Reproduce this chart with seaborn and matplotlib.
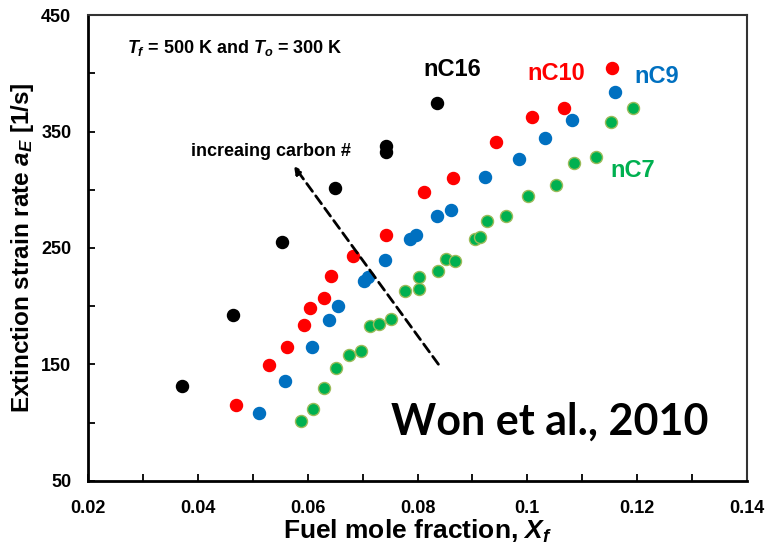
import numpy as np
import pandas as pd
import matplotlib
matplotlib.use("Agg")
import matplotlib.pyplot as plt
from matplotlib.ticker import MultipleLocator, FixedLocator
import seaborn as sns

# Extinction strain rate vs. fuel mole fraction (Tf = 500 K, To = 300 K)
nc16_x = [0.0372, 0.0464, 0.0554, 0.0649, 0.0742, 0.0742, 0.0835]
nc16_y = [131.8, 192.7, 254.9, 301.8, 332.5, 337.5, 374.2]

nc10_x = [0.0470, 0.0530, 0.0562, 0.0593, 0.0605, 0.0629, 0.0643, 0.0682,
          0.0742, 0.0811, 0.0865, 0.0943, 0.1009, 0.1067, 0.1155]
nc10_y = [115.2, 149.3, 165.3, 183.6, 198.5, 206.8, 226.2, 243.1,
          260.9, 297.8, 310.3, 341.0, 362.7, 369.9, 404.2]

nc9_x = [0.0511, 0.0559, 0.0607, 0.0638, 0.0656, 0.0703, 0.0710, 0.0741, 0.0786,
         0.0797, 0.0835, 0.0861, 0.0922, 0.0984, 0.1032, 0.1082, 0.1160]
nc9_y = [108.4, 136.1, 165.0, 188.5, 200.2, 221.7, 225.4, 239.7, 258.0,
         261.4, 277.5, 282.6, 310.7, 326.4, 344.7, 359.6, 383.6]

nc7_x = [0.0588, 0.0609, 0.0629, 0.0651, 0.0676, 0.0697, 0.0713, 0.0730, 0.0751,
         0.0778, 0.0802, 0.0802, 0.0838, 0.0851, 0.0869, 0.0904, 0.0914, 0.0927,
         0.0961, 0.1001, 0.1053, 0.1085, 0.1125, 0.1152, 0.1192]
nc7_y = [101.8, 112.1, 130.1, 147.3, 158.2, 161.3, 183.0, 184.5, 189.3,
         213.3, 215.1, 225.1, 230.5, 240.3, 239.1, 257.5, 259.4, 273.4,
         277.7, 294.6, 304.3, 322.7, 328.1, 357.9, 370.2]

x_ticks = [0.02, 0.04, 0.06, 0.08, 0.10, 0.12, 0.14]
x_tick_labels = ["0.02", "0.04", "0.06", "0.08", "0.1", "0.12", "0.14"]
y_ticks = [50, 150, 250, 350, 450]

series = [
    ("nC16", nc16_x, nc16_y, "#000000", "#000000"),
    ("nC10", nc10_x, nc10_y, "#FF0000", "#FF0000"),
    ("nC9", nc9_x, nc9_y, "#0070C0", "#0070C0"),
    ("nC7", nc7_x, nc7_y, "#00B050", "#9BBB59"),
]

frames = [pd.DataFrame({"fuel": name, "X": xs, "aE": ys}) for name, xs, ys, _, _ in series]
df = pd.concat(frames, ignore_index=True)

sns.set_theme(style="white")
plt.rcParams["font.family"] = ["Liberation Sans", "DejaVu Sans"]
plt.rcParams["font.weight"] = "bold"
plt.rcParams["text.color"] = "black"
plt.rcParams["axes.labelcolor"] = "black"
plt.rcParams["xtick.color"] = "black"
plt.rcParams["ytick.color"] = "black"
plt.rcParams["mathtext.fontset"] = "custom"
plt.rcParams["mathtext.rm"] = "Liberation Sans:bold"
plt.rcParams["mathtext.it"] = "Liberation Sans:bold:italic"
plt.rcParams["mathtext.bf"] = "Liberation Sans:bold"

fig = plt.figure(figsize=(7.68, 5.5), dpi=100)
ax = fig.add_axes([0.1146, 0.1255, 0.8581, 0.8472])

for name, _, _, face, edge in series:
    sns.scatterplot(data=df[df["fuel"] == name], x="X", y="aE", ax=ax,
                    color=face, edgecolor=edge, linewidth=1.0, s=75, zorder=3,
                    legend=False)

ax.set_xlim(0.02, 0.14)
ax.set_ylim(50, 450)
ax.xaxis.set_major_locator(FixedLocator(x_ticks))
ax.set_xticklabels(x_tick_labels)
ax.xaxis.set_minor_locator(MultipleLocator(0.01))
ax.yaxis.set_major_locator(FixedLocator(y_ticks))
ax.yaxis.set_minor_locator(MultipleLocator(50))

ax.tick_params(axis="both", which="both", direction="in", length=5, width=1.3,
               color="black", top=False, right=False, left=True, bottom=True)
ax.tick_params(axis="x", which="major", labelsize=13, pad=14)
ax.tick_params(axis="y", which="major", labelsize=13, pad=12)
for lbl in ax.get_xticklabels() + ax.get_yticklabels():
    lbl.set_fontweight("bold")
    lbl.set_color("black")

for side in ["left", "bottom"]:
    ax.spines[side].set_color("black")
    ax.spines[side].set_linewidth(2.0)
for side in ["top", "right"]:
    ax.spines[side].set_color("#333333")
    ax.spines[side].set_linewidth(1.5)

ax.set_xlabel("Fuel mole fraction, $X_f$", fontsize=19, fontweight="bold", labelpad=0)
ax.set_ylabel("Extinction strain rate $a_E$ [1/s]", fontsize=17.5, fontweight="bold", labelpad=4)

ax.text(0.0271, 421.7, "$T_f$ = 500 K and $T_o$ = 300 K", fontsize=13, fontweight="bold",
        ha="left", va="center")

ax.text(0.0863, 402.8, "nC16", color="#000000", fontsize=17, fontweight="bold", ha="center", va="center")
ax.text(0.1052, 400.2, "nC10", color="#FF0000", fontsize=17, fontweight="bold", ha="center", va="center")
ax.text(0.1236, 396.8, "nC9", color="#0070C0", fontsize=17, fontweight="bold", ha="center", va="center")
ax.text(0.1191, 316.9, "nC7", color="#00B050", fontsize=17, fontweight="bold", ha="center", va="center")

ax.text(0.0533, 332.7, "increaing carbon #", fontsize=13, fontweight="bold", ha="center", va="center")

# dashed trend arrow pointing toward heavier fuels
arrow_tail = (0.0838, 150.2)
arrow_head = (0.0575, 320.4)
ax.annotate("", xy=arrow_head, xytext=arrow_tail,
            arrowprops=dict(arrowstyle="-|>", linestyle=(0, (3.5, 2)), color="black",
                            lw=2.0, mutation_scale=11, shrinkA=0, shrinkB=0))

ax.text(0.1041, 100.6, "Won et al., 2010", fontsize=31, fontweight="bold", color="black",
        family=["Lato", "DejaVu Sans"], ha="center", va="center")

fig.savefig("out.png", dpi=100)
